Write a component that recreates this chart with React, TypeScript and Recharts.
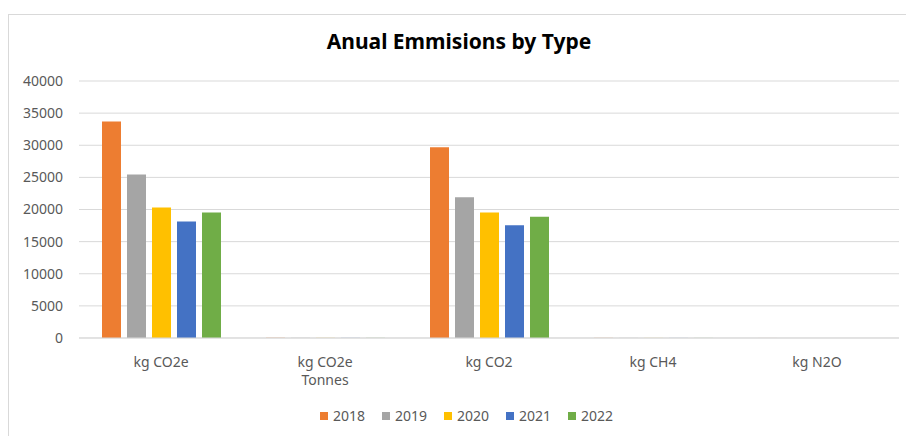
import { BarChart, Bar, XAxis, YAxis, CartesianGrid, Text } from "recharts";

const categories = ["kg CO2e", "kg CO2e Tonnes", "kg CO2", "kg CH4", "kg N2O"];
const years = ["2018", "2019", "2020", "2021", "2022"];
const colors = ["#ED7D31", "#A5A5A5", "#FFC000", "#4472C4", "#70AD47"];

// values per year, in category order
const v2018 = [33700, 33.7, 29700, 20, 5];
const v2019 = [25450, 25.5, 21900, 16, 4];
const v2020 = [20300, 20.3, 19550, 12, 3];
const v2021 = [18150, 18.2, 17550, 11, 3];
const v2022 = [19550, 19.6, 18870, 12, 3];
const yTicks = [0, 5000, 10000, 15000, 20000, 25000, 30000, 35000, 40000];

const seriesValues = [v2018, v2019, v2020, v2021, v2022];

const data = categories.map((name, i) => {
  const row: Record<string, string | number> = { name };
  years.forEach((y, s) => {
    row[y] = seriesValues[s][i];
  });
  return row;
});

const FONT = "'Noto Sans', sans-serif";
const GREY = "#595959";

function CategoryTick({ x, y, payload }: any) {
  return (
    <Text
      x={x}
      y={y}
      width={72}
      textAnchor="middle"
      verticalAnchor="start"
      lineHeight="1.3em"
      fill={GREY}
      fontSize={14}
      fontFamily={FONT}
    >
      {payload.value}
    </Text>
  );
}

export default function App() {
  return (
    <div
      style={{
        position: "fixed",
        left: 0,
        top: 0,
        width: 906,
        height: 436,
        overflow: "hidden",
        background: "#fff",
        fontFamily: FONT,
      }}
    >
      <div
        style={{
          position: "absolute",
          left: 8,
          top: 14,
          width: 930,
          height: 450,
          border: "1px solid #d9d9d9",
        }}
      />
      <div
        style={{
          position: "absolute",
          left: 0,
          top: 27,
          width: 918,
          textAlign: "center",
          fontSize: 21,
          fontWeight: 700,
          color: "#000",
        }}
      >
        Anual Emmisions by Type
      </div>
      <div style={{ position: "absolute", left: 0, top: 0 }}>
        <BarChart
          width={906}
          height={436}
          data={data}
          margin={{ top: 81, right: 7, bottom: 68, left: 0 }}
          barSize={19}
          barGap={6}
        >
          <CartesianGrid vertical={false} stroke="#d9d9d9" strokeWidth={1} />
          <XAxis
            dataKey="name"
            height={30}
            axisLine={{ stroke: "#d9d9d9" }}
            tickLine={false}
            tickSize={0}
            tickMargin={19}
            interval={0}
            tick={<CategoryTick />}
          />
          <YAxis
            width={79}
            domain={[0, 40000]}
            ticks={yTicks}
            axisLine={false}
            tickLine={false}
            tickSize={0}
            tickMargin={16}
            tick={{ fill: GREY, fontSize: 14, fontFamily: FONT }}
          />
          {years.map((y, i) => (
            <Bar key={y} dataKey={y} fill={colors[i]} isAnimationActive={false} />
          ))}
        </BarChart>
      </div>
      <div
        style={{
          position: "absolute",
          left: 320,
          top: 406,
          display: "flex",
          fontSize: 14,
          color: GREY,
        }}
      >
        {years.map((y, i) => (
          <div key={y} style={{ display: "flex", alignItems: "center", width: 62 }}>
            <span
              style={{
                display: "inline-block",
                width: 8,
                height: 8,
                background: colors[i],
                marginRight: 5,
              }}
            />
            <span>{y}</span>
          </div>
        ))}
      </div>
    </div>
  );
}
